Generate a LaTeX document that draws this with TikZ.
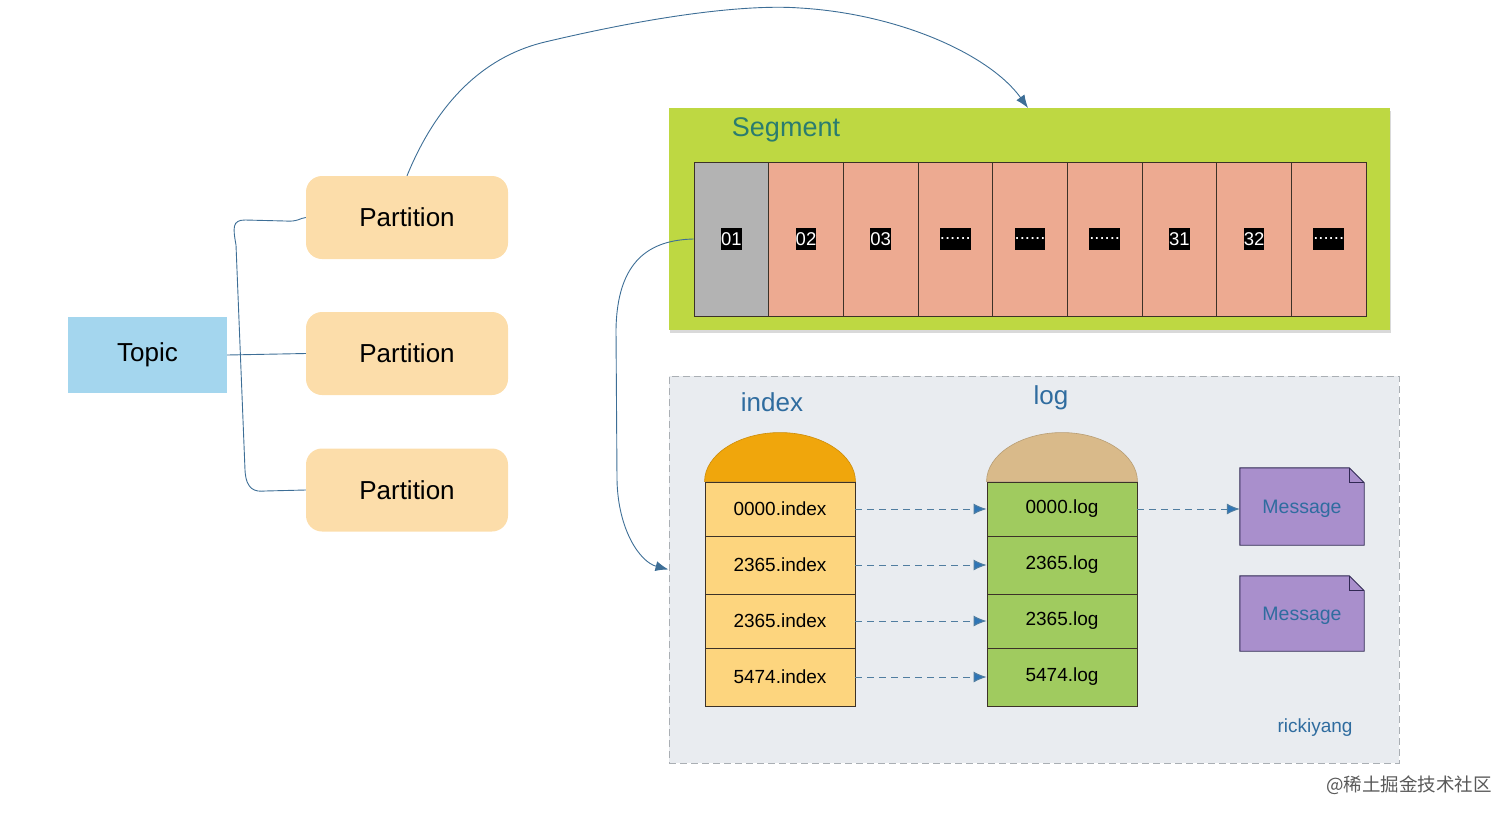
\documentclass[tikz,border=0pt]{standalone}
\usepackage{fontspec}
\setmainfont{Liberation Sans}
\newfontfamily\cjkfont{Noto Sans CJK SC}
\usetikzlibrary{arrows.meta,shadows,calc}
\definecolor{topicblue}{RGB}{164,214,238}
\definecolor{partfill}{RGB}{252,221,170}
\definecolor{seggreen}{RGB}{190,216,66}
\definecolor{cellgray}{RGB}{179,179,179}
\definecolor{salmon}{RGB}{237,170,145}
\definecolor{boxfill}{RGB}{233,236,240}
\definecolor{boxline}{RGB}{170,175,180}
\definecolor{domeorange}{RGB}{240,166,12}
\definecolor{idxrow}{RGB}{253,213,126}
\definecolor{domelog}{RGB}{217,186,138}
\definecolor{logrow}{RGB}{160,203,95}
\definecolor{msgfill}{RGB}{169,143,204}
\definecolor{bluetxt}{RGB}{47,108,159}
\definecolor{segtxt}{RGB}{42,124,111}
\definecolor{connblue}{RGB}{61,110,150}
\definecolor{tipblue}{RGB}{46,117,182}
\definecolor{edgedark}{RGB}{60,50,40}
\newcommand\dotlbl{......}
\begin{document}
\begin{tikzpicture}[x=1pt,y=-1pt,
  big/.style={font=\fontsize{26}{30}\selectfont},
  topicbox/.style={big, fill=topicblue, minimum width=159pt, minimum height=76pt, inner sep=0pt},
  partbox/.style={big, fill=partfill, rounded corners=16pt, minimum width=202pt, minimum height=83pt, inner sep=0pt},
  segbox/.style={fill=seggreen, minimum width=721pt, minimum height=222pt, inner sep=0pt,
     drop shadow={shadow xshift=1pt, shadow yshift=-3pt, fill=black!25, opacity=0.6}},
  segtext/.style={font=\fontsize{27}{30}\selectfont, text=segtxt},
  cellbox/.style={draw=edgedark, line width=0.9pt, minimum width=74.67pt, minimum height=154pt, inner sep=0pt},
  celllabel/.style={fill=black, text=white, font=\fontsize{18.5}{20}\selectfont, inner xsep=0pt, inner ysep=0pt, minimum height=22pt},
  container/.style={fill=boxfill, draw=boxline, line width=1pt, dash pattern=on 7pt off 4pt, minimum width=730pt, minimum height=387pt, inner sep=0pt},
  bluetext/.style={text=bluetxt, font=\fontsize{26}{30}\selectfont},
  rowtext/.style={font=\fontsize{19}{22}\selectfont},
  idxbox/.style={rowtext, fill=idxrow, draw=edgedark, line width=0.9pt, minimum width=150pt, inner sep=0pt},
  logbox/.style={rowtext, fill=logrow, draw=edgedark, line width=0.9pt, minimum width=150pt, inner sep=0pt},
  dome/.style={draw=#1!85!black, line width=0.6pt, fill=#1},
  conn/.style={draw=connblue, line width=0.9pt},
  tipped/.style={-{Latex[length=13pt,width=10pt]}, color=connblue},
  dasharrow/.style={draw=connblue!90, line width=1pt, dash pattern=on 7pt off 5pt, -{Latex[length=13pt,width=11pt,fill=tipblue]}},
  msgshape/.style={minimum width=124pt, inner sep=0pt},
  msgdraw/.style={fill=msgfill, draw=edgedark!80!blue, line width=0.9pt},
  msgtext/.style={text=bluetxt, font=\fontsize{19.5}{22}\selectfont},
  smalltxt/.style={text=bluetxt, font=\fontsize{19}{22}\selectfont},
  wm/.style={text=black!65, font=\cjkfont\fontsize{18.5}{22}\selectfont}
]
\useasboundingbox (0,0) rectangle (1512,817);

% Topic and partitions
\node[topicbox] (topic) at (147.5,355) {Topic};
\node[partbox] (p1) at (407,217.5) {Partition};
\node[partbox] (p2) at (407,353.5) {Partition};
\node[partbox] (p3) at (407,490) {Partition};

\draw[conn] (topic.east) -- (p2.west);
\draw[conn] (p1.west) .. controls (300,218) and (298,222) .. (285,221) -- (245,220)
  .. controls (232,220) and (233,228) .. (236,245) -- (245,470)
  .. controls (246,490) and (255,492) .. (265,491) -- (p3.west);

% Segment
\node[segbox] (seg) at (1029.5,219) {};
\node[segtext] (segl) at (786,130) {Segment};
\foreach \i/\t/\c in {1/01/cellgray,2/02/salmon,3/03/salmon,4/\dotlbl/salmon,5/\dotlbl/salmon,6/\dotlbl/salmon,7/31/salmon,8/32/salmon,9/\dotlbl/salmon}{
  \node[cellbox, fill=\c] (c\i) at ({694+(\i-0.5)*74.67},239) {};
  \node[celllabel] (l\i) at (c\i) {\t};
}
\coordinate (segin) at (1028,108);

% top curve
\draw[conn, tipped] (p1.north) .. controls (440,95) and (490,55) .. (545,42)
  .. controls (680,10) and (760,5) .. (800,8)
  .. controls (900,14) and (990,55) .. (segin);

% container
\node[container] (box) at (1034,569.5) {};
\node[bluetext] (idxl) at (772,402) {index};
\node[bluetext] (logl) at (1051,398) {log};

% left curve
\draw[conn, tipped] (c1.west) .. controls (650,240) and (617,260) .. (616,330) -- (617,480)
  .. controls (618,530) and (640,562) .. (box.west);

% index stack
\node[idxbox, minimum height=54pt] (i1) at (780,509) {0000.index};
\node[idxbox, minimum height=58pt] (i2) at (780,565) {2365.index};
\node[idxbox, minimum height=54pt] (i3) at (780,621) {2365.index};
\node[idxbox, minimum height=58pt] (i4) at (780,677) {5474.index};
\draw[dome=domeorange] (i1.north west) .. controls +(0,-27) and +(-41,0) .. ($(i1.north)+(0,-49)$)
  .. controls +(41,0) and +(0,-27) .. (i1.north east) -- cycle;

% log stack
\node[logbox, minimum height=54pt] (g1) at (1062,509) {0000.log};
\node[logbox, minimum height=58pt] (g2) at (1062,565) {2365.log};
\node[logbox, minimum height=54pt] (g3) at (1062,621) {2365.log};
\node[logbox, minimum height=58pt] (g4) at (1062,677) {5474.log};
\draw[dome=domelog] (g1.north west) .. controls +(0,-27) and +(-41,0) .. ($(g1.north)+(0,-49)$)
  .. controls +(41,0) and +(0,-27) .. (g1.north east) -- cycle;

% messages
\node[msgshape, minimum height=77pt] (m1) at (1302,506.5) {};
\node[msgshape, minimum height=75pt] (m2) at (1302,613.5) {};
\foreach \m in {m1,m2}{
  \draw[msgdraw] (\m.south west) -- (\m.north west) -- ($(\m.north east)+(-15,0)$)
    -- ($(\m.north east)+(0,15)$) -- (\m.south east) -- cycle;
  \draw[msgdraw, fill=none] ($(\m.north east)+(-15,0)$) -- ($(\m.north east)+(-15,15)$) -- ($(\m.north east)+(0,15)$);
}
\node[msgtext] (m1t) at ($(m1)+(0,2)$) {Message};
\node[msgtext] (m2t) at ($(m2)+(0,2)$) {Message};

% dashed arrows
\draw[dasharrow] (i1.east) -- (g1.west);
\draw[dasharrow] (i2.east) -- (g2.west);
\draw[dasharrow] (i3.east) -- (g3.west);
\draw[dasharrow] (i4.east) -- (g4.west);
\draw[dasharrow] (g1.east) -- (g1.east -| m1.west);

\node[smalltxt] (rk) at (1315,728) {rickiyang};
\node[wm] (wmk) at (1409,785) {@稀土掘金技术社区};
\end{tikzpicture}
\end{document}
